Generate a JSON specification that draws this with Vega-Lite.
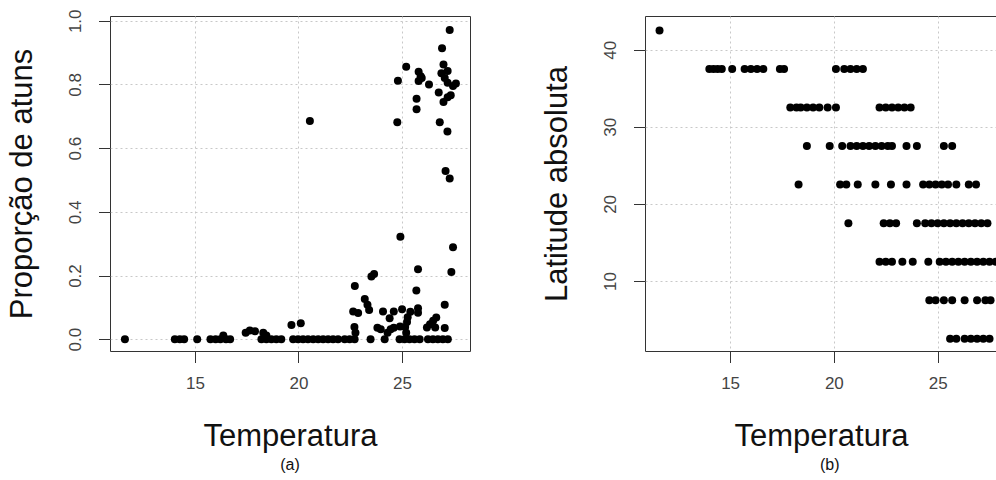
{
  "$schema": "https://vega.github.io/schema/vega-lite/v6.json",
  "padding": {"left": 6, "top": 8, "right": 0, "bottom": 0},
  "background": "white",
  "spacing": 70,
  "datasets": {
    "a": [
      {"temp": 11.62, "prop": 0}, {"temp": 14.03, "prop": 0}, {"temp": 14.27, "prop": 0}, {"temp": 14.48, "prop": 0},
      {"temp": 15.11, "prop": 0}, {"temp": 15.75, "prop": 0}, {"temp": 16.0, "prop": 0}, {"temp": 16.23, "prop": 0},
      {"temp": 16.5, "prop": 0}, {"temp": 16.7, "prop": 0}, {"temp": 18.21, "prop": 0}, {"temp": 18.45, "prop": 0},
      {"temp": 18.69, "prop": 0}, {"temp": 18.93, "prop": 0}, {"temp": 19.17, "prop": 0}, {"temp": 19.74, "prop": 0},
      {"temp": 19.98, "prop": 0}, {"temp": 20.22, "prop": 0}, {"temp": 20.46, "prop": 0}, {"temp": 20.71, "prop": 0},
      {"temp": 20.95, "prop": 0}, {"temp": 21.19, "prop": 0}, {"temp": 21.43, "prop": 0}, {"temp": 21.67, "prop": 0},
      {"temp": 21.91, "prop": 0}, {"temp": 22.23, "prop": 0}, {"temp": 22.47, "prop": 0}, {"temp": 22.71, "prop": 0},
      {"temp": 23.48, "prop": 0}, {"temp": 24.16, "prop": 0}, {"temp": 24.88, "prop": 0}, {"temp": 25.12, "prop": 0},
      {"temp": 25.36, "prop": 0}, {"temp": 25.6, "prop": 0}, {"temp": 25.85, "prop": 0}, {"temp": 26.25, "prop": 0},
      {"temp": 26.49, "prop": 0}, {"temp": 26.73, "prop": 0}, {"temp": 26.97, "prop": 0}, {"temp": 27.21, "prop": 0},
      {"temp": 16.37, "prop": 0.012}, {"temp": 17.45, "prop": 0.02}, {"temp": 17.65, "prop": 0.027}, {"temp": 17.9, "prop": 0.025},
      {"temp": 18.3, "prop": 0.02}, {"temp": 18.45, "prop": 0.012}, {"temp": 19.66, "prop": 0.045}, {"temp": 20.11, "prop": 0.05},
      {"temp": 22.7, "prop": 0.038}, {"temp": 22.75, "prop": 0.02}, {"temp": 23.81, "prop": 0.036}, {"temp": 23.97, "prop": 0.031},
      {"temp": 24.45, "prop": 0.031}, {"temp": 24.6, "prop": 0.036}, {"temp": 24.3, "prop": 0.02}, {"temp": 24.9, "prop": 0.04},
      {"temp": 25.2, "prop": 0.02}, {"temp": 25.15, "prop": 0.038}, {"temp": 25.24, "prop": 0.054}, {"temp": 25.27, "prop": 0.069},
      {"temp": 25.4, "prop": 0.086}, {"temp": 25.77, "prop": 0.097}, {"temp": 25.77, "prop": 0.083}, {"temp": 26.2, "prop": 0.037},
      {"temp": 26.35, "prop": 0.047}, {"temp": 26.5, "prop": 0.058}, {"temp": 26.65, "prop": 0.068}, {"temp": 26.6, "prop": 0.037},
      {"temp": 27.06, "prop": 0.035}, {"temp": 27.06, "prop": 0.108}, {"temp": 24.08, "prop": 0.087}, {"temp": 24.4, "prop": 0.066},
      {"temp": 24.6, "prop": 0.087}, {"temp": 25.0, "prop": 0.094}, {"temp": 22.64, "prop": 0.087}, {"temp": 22.88, "prop": 0.082},
      {"temp": 23.2, "prop": 0.126}, {"temp": 23.33, "prop": 0.108}, {"temp": 23.41, "prop": 0.092}, {"temp": 25.69, "prop": 0.153},
      {"temp": 22.72, "prop": 0.167}, {"temp": 23.52, "prop": 0.197}, {"temp": 23.65, "prop": 0.205}, {"temp": 25.77, "prop": 0.22},
      {"temp": 27.38, "prop": 0.211}, {"temp": 27.46, "prop": 0.289}, {"temp": 24.92, "prop": 0.322},
      {"temp": 27.3, "prop": 0.971}, {"temp": 26.93, "prop": 0.914}, {"temp": 25.2, "prop": 0.856}, {"temp": 24.8, "prop": 0.812},
      {"temp": 25.8, "prop": 0.84}, {"temp": 25.9, "prop": 0.826}, {"temp": 25.8, "prop": 0.811}, {"temp": 25.95, "prop": 0.82},
      {"temp": 26.3, "prop": 0.8}, {"temp": 26.77, "prop": 0.775}, {"temp": 25.7, "prop": 0.755}, {"temp": 25.7, "prop": 0.722},
      {"temp": 27.0, "prop": 0.863}, {"temp": 27.2, "prop": 0.842}, {"temp": 26.9, "prop": 0.835}, {"temp": 27.06, "prop": 0.82},
      {"temp": 27.46, "prop": 0.795}, {"temp": 27.2, "prop": 0.805}, {"temp": 27.6, "prop": 0.803}, {"temp": 27.0, "prop": 0.745},
      {"temp": 27.2, "prop": 0.76}, {"temp": 27.35, "prop": 0.766}, {"temp": 24.77, "prop": 0.681}, {"temp": 26.82, "prop": 0.681},
      {"temp": 20.55, "prop": 0.685}, {"temp": 27.19, "prop": 0.652}, {"temp": 27.1, "prop": 0.528}, {"temp": 27.3, "prop": 0.505}
    ],
    "b": [
      {"temp": 11.6, "lat": 42.5},
      {"temp": 14.0, "lat": 37.5}, {"temp": 14.2, "lat": 37.5}, {"temp": 14.4, "lat": 37.5}, {"temp": 14.6, "lat": 37.5},
      {"temp": 15.1, "lat": 37.5}, {"temp": 15.7, "lat": 37.5}, {"temp": 16.0, "lat": 37.5}, {"temp": 16.3, "lat": 37.5},
      {"temp": 16.6, "lat": 37.5}, {"temp": 17.4, "lat": 37.5}, {"temp": 17.6, "lat": 37.5}, {"temp": 20.1, "lat": 37.5},
      {"temp": 20.5, "lat": 37.5}, {"temp": 20.8, "lat": 37.5}, {"temp": 21.1, "lat": 37.5}, {"temp": 21.4, "lat": 37.5},
      {"temp": 17.9, "lat": 32.5}, {"temp": 18.2, "lat": 32.5}, {"temp": 18.4, "lat": 32.5}, {"temp": 18.7, "lat": 32.5},
      {"temp": 19.0, "lat": 32.5}, {"temp": 19.3, "lat": 32.5}, {"temp": 19.7, "lat": 32.5}, {"temp": 20.1, "lat": 32.5},
      {"temp": 22.2, "lat": 32.5}, {"temp": 22.5, "lat": 32.5}, {"temp": 22.8, "lat": 32.5}, {"temp": 23.1, "lat": 32.5},
      {"temp": 23.4, "lat": 32.5}, {"temp": 23.7, "lat": 32.5},
      {"temp": 18.7, "lat": 27.5}, {"temp": 19.8, "lat": 27.5}, {"temp": 20.4, "lat": 27.5}, {"temp": 20.8, "lat": 27.5},
      {"temp": 21.1, "lat": 27.5}, {"temp": 21.4, "lat": 27.5}, {"temp": 21.7, "lat": 27.5}, {"temp": 22.0, "lat": 27.5},
      {"temp": 22.3, "lat": 27.5}, {"temp": 22.6, "lat": 27.5}, {"temp": 22.8, "lat": 27.5}, {"temp": 23.5, "lat": 27.5},
      {"temp": 24.0, "lat": 27.5}, {"temp": 25.3, "lat": 27.5}, {"temp": 25.7, "lat": 27.5},
      {"temp": 18.3, "lat": 22.5}, {"temp": 20.3, "lat": 22.5}, {"temp": 20.6, "lat": 22.5}, {"temp": 21.15, "lat": 22.5},
      {"temp": 22.0, "lat": 22.5}, {"temp": 22.75, "lat": 22.5}, {"temp": 23.5, "lat": 22.5}, {"temp": 24.3, "lat": 22.5},
      {"temp": 24.6, "lat": 22.5}, {"temp": 24.9, "lat": 22.5}, {"temp": 25.2, "lat": 22.5}, {"temp": 25.5, "lat": 22.5},
      {"temp": 25.9, "lat": 22.5}, {"temp": 26.5, "lat": 22.5}, {"temp": 26.85, "lat": 22.5},
      {"temp": 20.7, "lat": 17.5}, {"temp": 22.4, "lat": 17.5}, {"temp": 22.7, "lat": 17.5}, {"temp": 23.0, "lat": 17.5},
      {"temp": 24.0, "lat": 17.5}, {"temp": 24.4, "lat": 17.5}, {"temp": 24.7, "lat": 17.5}, {"temp": 25.0, "lat": 17.5},
      {"temp": 25.3, "lat": 17.5}, {"temp": 25.6, "lat": 17.5}, {"temp": 25.9, "lat": 17.5}, {"temp": 26.2, "lat": 17.5},
      {"temp": 26.5, "lat": 17.5}, {"temp": 26.8, "lat": 17.5}, {"temp": 27.1, "lat": 17.5}, {"temp": 27.4, "lat": 17.5},
      {"temp": 22.2, "lat": 12.5}, {"temp": 22.5, "lat": 12.5}, {"temp": 22.8, "lat": 12.5}, {"temp": 23.3, "lat": 12.5},
      {"temp": 23.8, "lat": 12.5}, {"temp": 24.55, "lat": 12.5}, {"temp": 25.1, "lat": 12.5}, {"temp": 25.4, "lat": 12.5},
      {"temp": 25.7, "lat": 12.5}, {"temp": 26.0, "lat": 12.5}, {"temp": 26.3, "lat": 12.5}, {"temp": 26.6, "lat": 12.5},
      {"temp": 26.9, "lat": 12.5}, {"temp": 27.2, "lat": 12.5}, {"temp": 27.5, "lat": 12.5}, {"temp": 27.8, "lat": 12.5},
      {"temp": 24.6, "lat": 7.5}, {"temp": 24.9, "lat": 7.5}, {"temp": 25.3, "lat": 7.5}, {"temp": 25.7, "lat": 7.5},
      {"temp": 26.3, "lat": 7.5}, {"temp": 26.9, "lat": 7.5}, {"temp": 27.3, "lat": 7.5}, {"temp": 27.55, "lat": 7.5},
      {"temp": 25.6, "lat": 2.5}, {"temp": 25.9, "lat": 2.5}, {"temp": 26.3, "lat": 2.5}, {"temp": 26.6, "lat": 2.5},
      {"temp": 26.9, "lat": 2.5}, {"temp": 27.2, "lat": 2.5}, {"temp": 27.5, "lat": 2.5}
    ]
  },
  "hconcat": [
    {
      "data": {"name": "a"},
      "width": 360,
      "height": 335,
      "title": {"text": "(a)", "orient": "bottom", "frame": "group", "anchor": "middle", "fontSize": 16, "fontWeight": "normal", "font": "Liberation Sans", "color": "#111", "offset": 5},
      "mark": {"type": "circle", "size": 64, "color": "black", "opacity": 1},
      "encoding": {
        "x": {"field": "temp", "type": "quantitative", "title": "Temperatura",
              "scale": {"domain": [10.9, 28.28], "nice": false, "zero": false},
              "axis": {"values": [15, 20, 25]}},
        "y": {"field": "prop", "type": "quantitative", "title": "Proporção de atuns",
              "scale": {"domain": [-0.037, 1.015], "nice": false, "zero": false},
              "axis": {"values": [0, 0.2, 0.4, 0.6, 0.8, 1.0], "format": ".1f"}}
      }
    },
    {
      "data": {"name": "b"},
      "width": 352,
      "height": 335,
      "view": {"stroke": "#333", "strokeDash": [352, 335, 687, 0]},
      "title": {"text": "(b)", "orient": "bottom", "frame": "group", "anchor": "start", "dx": 175, "fontSize": 16, "fontWeight": "normal", "font": "Liberation Sans", "color": "#111", "offset": 5},
      "mark": {"type": "circle", "size": 64, "color": "black", "opacity": 1, "clip": true},
      "encoding": {
        "x": {"field": "temp", "type": "quantitative", "title": "Temperatura",
              "scale": {"domain": [10.9, 27.86], "nice": false, "zero": false},
              "axis": {"values": [15, 20, 25]}},
        "y": {"field": "lat", "type": "quantitative", "title": "Latitude absoluta",
              "scale": {"domain": [0.92, 44.37], "nice": false, "zero": false},
              "axis": {"values": [10, 20, 30, 40]}}
      }
    }
  ],
  "config": {
    "font": "Liberation Sans",
    "view": {"stroke": "#333", "strokeWidth": 1},
    "axis": {
      "grid": true, "gridColor": "#c8c8c8", "gridDash": [2, 3], "gridWidth": 1,
      "domain": false, "ticks": true, "tickColor": "#333", "tickSize": 11.5, "tickWidth": 1,
      "labelColor": "#444", "labelFont": "Liberation Sans", "labelFontSize": 17,
      "titleFont": "Liberation Sans", "titleFontSize": 31, "titleFontWeight": "normal", "titleColor": "#111"
    },
    "axisX": {"labelPadding": 13, "titlePadding": 30},
    "axisY": {"labelAngle": -90, "labelAlign": "center", "labelBaseline": "bottom", "labelPadding": 14, "titlePadding": 28}
  }
}
